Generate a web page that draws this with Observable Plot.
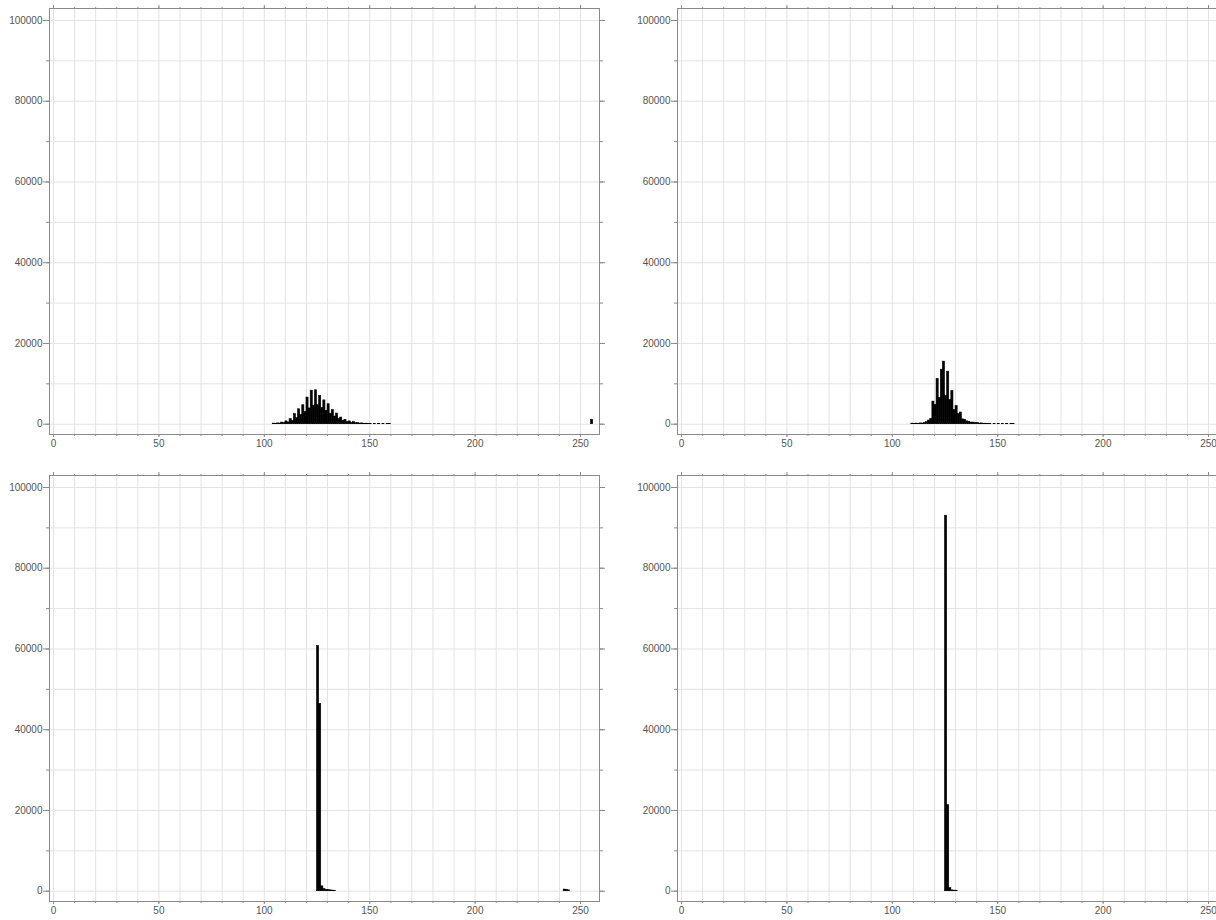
<!DOCTYPE html>
<html>
<head>
<meta charset="utf-8">
<script src="https://cdn.jsdelivr.net/npm/d3@7"></script>
<script src="https://cdn.jsdelivr.net/npm/@observablehq/plot@0.6"></script>
<style>
  html, body { margin: 0; padding: 0; background: #fff; overflow: hidden; }
  #grid { display: grid; grid-template-columns: 628px 628px; grid-auto-rows: 467px; width: 1256px; }
  #grid svg { display: block; }
</style>
</head>
<body>
<div id="grid"></div>
<script>
// Tick positions and labels
const xMajorTicks = [0, 50, 100, 150, 200, 250];
const xMinorTicks = [0, 10, 20, 30, 40, 50, 60, 70, 80, 90, 100, 110, 120, 130, 140, 150, 160, 170, 180, 190, 200, 210, 220, 230, 240, 250];
const yMajorTicks = [0, 20000, 40000, 60000, 80000, 100000];
const yMinorTicks = [0, 10000, 20000, 30000, 40000, 50000, 60000, 70000, 80000, 90000, 100000];

// Histogram counts per unit bin (first bin given by *Start)
const topLeftStart = 104;
const topLeftCounts = [
  150, 100, 200, 150, 400, 250, 700, 450, 1240, 800,
  2480, 1500, 3700, 2300, 4700, 3000, 6600, 3900, 8300, 4600,
  8400, 4700, 7000, 4000, 5900, 3300, 4950, 2600, 3470, 1900,
  2640, 1300, 1650, 850, 1070, 550, 700, 350, 500, 250,
  300, 150, 200, 100, 120, 60, 80, 0, 70, 0,
  60, 0, 60, 0, 60, 50
];
const topLeftExtraBins = [255];
const topLeftExtraCounts = [1100];

const topRightStart = 109;
const topRightCounts = [
  150, 80, 150, 100, 200, 150, 300, 500, 900, 1300,
  5600, 4800, 11200, 6500, 13500, 15500, 7000, 13000, 6000, 8200,
  3500, 4500, 2500, 2900, 1200, 1100, 700, 600, 400, 400,
  250, 300, 150, 200, 100, 120, 80, 60, 0, 60,
  0, 60, 0, 60, 0, 60, 0, 60, 50
];

const bottomLeftStart = 125;
const bottomLeftCounts = [60700, 46400, 1200, 500, 300, 250, 200, 150, 100];
const bottomLeftExtraBins = [242, 243, 244];
const bottomLeftExtraCounts = [400, 350, 200];

const bottomRightStart = 125;
const bottomRightCounts = [93000, 21300, 750, 200, 150, 100];

function toBins(start, counts, extraBins = [], extraCounts = []) {
  const rows = counts.map((c, i) => ({bin: start + i, count: c}));
  extraBins.forEach((b, i) => rows.push({bin: b, count: extraCounts[i]}));
  return rows.filter(d => d.count > 0);
}

const panels = [
  toBins(topLeftStart, topLeftCounts, topLeftExtraBins, topLeftExtraCounts),
  toBins(topRightStart, topRightCounts),
  toBins(bottomLeftStart, bottomLeftCounts, bottomLeftExtraBins, bottomLeftExtraCounts),
  toBins(bottomRightStart, bottomRightCounts)
];

const axisStroke = "#8a8a8a";
const labelFill = "#555";
const noLabel = () => "";

function histogram(data) {
  return Plot.plot({
    width: 628,
    height: 467,
    marginLeft: 49,
    marginRight: 29,
    marginTop: 8,
    marginBottom: 33,
    style: {fontFamily: "'Liberation Sans', Arial, sans-serif", fontSize: "10px", background: "#fff"},
    x: {domain: [-1.9, 259.0]},
    y: {domain: [-2550, 102970]},
    marks: [
      Plot.gridX(xMinorTicks, {stroke: "#e3e3e3", strokeOpacity: 1}),
      Plot.gridY(yMinorTicks, {stroke: "#e3e3e3", strokeOpacity: 1}),
      Plot.rectY(data, {x1: "bin", x2: d => d.bin + 1, y: "count", fill: "black", stroke: "black", strokeWidth: 0.6, inset: 0}),
      // bottom axis
      Plot.axisX(xMinorTicks, {anchor: "bottom", tickSize: 2, tickFormat: noLabel, stroke: axisStroke, label: null}),
      Plot.axisX(xMajorTicks, {anchor: "bottom", tickSize: 3, tickPadding: 2, tickFormat: d => String(d), stroke: axisStroke, fill: labelFill, label: null}),
      // top axis (no labels)
      Plot.axisX(xMinorTicks, {anchor: "top", tickSize: 2, tickFormat: noLabel, stroke: axisStroke, label: null}),
      Plot.axisX(xMajorTicks, {anchor: "top", tickSize: 4, tickFormat: noLabel, stroke: axisStroke, label: null}),
      // left axis
      Plot.axisY(yMinorTicks, {anchor: "left", tickSize: 3, tickFormat: noLabel, stroke: axisStroke, label: null}),
      Plot.axisY(yMajorTicks, {anchor: "left", tickSize: 6, tickPadding: 1, tickFormat: d => String(d), stroke: axisStroke, fill: labelFill, label: null}),
      // right axis (no labels)
      Plot.axisY(yMinorTicks, {anchor: "right", tickSize: 3, tickFormat: noLabel, stroke: axisStroke, label: null}),
      Plot.axisY(yMajorTicks, {anchor: "right", tickSize: 5, tickFormat: noLabel, stroke: axisStroke, label: null}),
      Plot.frame({stroke: axisStroke})
    ]
  });
}

const grid = document.getElementById("grid");
panels.forEach(p => grid.appendChild(histogram(p)));
</script>
</body>
</html>
